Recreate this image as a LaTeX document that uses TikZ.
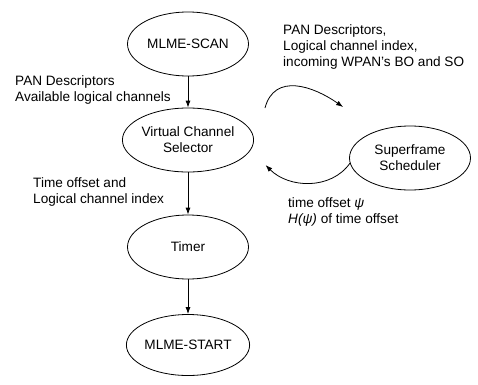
\documentclass[tikz,border=0pt]{standalone}
\usepackage{fontspec}
\setmainfont{Liberation Sans}
\usetikzlibrary{calc, shapes.geometric, arrows.meta}

\tikzset{
  block/.style = {draw, ellipse, line width=0.8pt, minimum width=121pt, minimum height=64pt, inner sep=0pt, align=center},
  flow/.style = {-{Latex[length=7pt, width=5pt]}, line width=0.8pt},
  lbl/.style = {align=left, inner sep=0pt, anchor=west}
}

\begin{document}
\begin{tikzpicture}[x=1pt, y=1pt, font=\fontsize{13.6}{16}\selectfont]

  % Fix the frame
  \useasboundingbox (0,0) rectangle (478,384);

  % Define the blocks
  \node[block] (scan) at (188,340) {MLME-SCAN};
  \node[block] (vcs) at (188,244) {Virtual Channel\\Selector};
  \node[block] (sched) at (410,226) {Superframe\\Scheduler};
  \node[block] (timer) at (188,137) {Timer};
  \node[block, minimum height=61pt] (start) at (188,39) {MLME-START};

  % Ends of the curved arrows
  \coordinate (upA) at ($(vcs.east)+(11,32)$);
  \coordinate (upB) at ($(sched.west)+(-6,51)$);
  \coordinate (loA) at ($(sched.west)+(1,-5)$);
  \coordinate (loB) at ($(vcs.east)+(11.5,-25)$);

  % Draw the straight arrows
  \draw[flow] (scan) -- (vcs);
  \draw[flow] (vcs) -- (timer);
  \draw[flow] (timer) -- (start);

  % Draw the curved arrows
  \draw[flow] (upA) to[out=75, in=145, looseness=1.2] (upB);
  \draw[flow] (loA) to[out=-125, in=-45] (loB);

  % Label the arrows
  \node[lbl] (l1) at (15,294.5) {PAN Descriptors\\Available logical channels};
  \node[lbl] (l2) at (283,337) {PAN Descriptors,\\Logical channel index,\\incoming WPAN's BO and SO};
  \node[lbl] (l3) at (33,192) {Time offset and\\Logical channel index};
  \node[lbl] (l4) at (288,172) {time offset \textit{ψ}\\\textit{H(ψ)} of time offset};

\end{tikzpicture}
\end{document}
